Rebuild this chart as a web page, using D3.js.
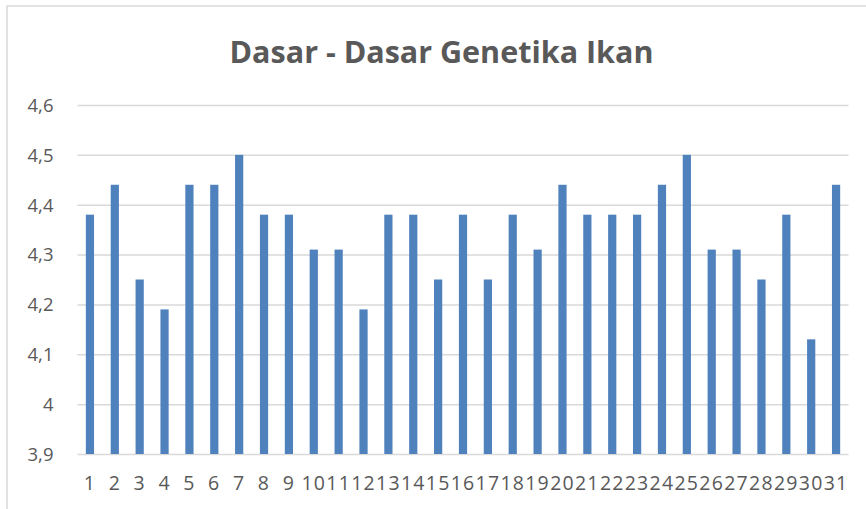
<!DOCTYPE html>
<meta charset="utf-8">
<style>
body { margin: 0; background: #fff; }
svg { font-family: "Open Sans", sans-serif; }
.title { font-weight: bold; font-size: 30.5px; fill: #595959; }
.axis text { font-family: "Open Sans", sans-serif; font-size: 18.5px; fill: #595959; }
.x-axis text { font-size: 19.5px; letter-spacing: 1.2px; }
.grid line { stroke: #d9d9d9; stroke-width: 1.5; }
.axis path.domain { display: none; }
.bar { fill: #4f81bd; }
</style>
<div id="chart"></div>
<script src="https://d3js.org/d3.v7.min.js"></script>
<script>
// data
var days = d3.range(1, 32).map(String);
var scores = [4.38, 4.44, 4.25, 4.19, 4.44, 4.44, 4.5, 4.38, 4.38, 4.31,
              4.31, 4.19, 4.38, 4.38, 4.25, 4.38, 4.25, 4.38, 4.31, 4.44,
              4.38, 4.38, 4.38, 4.44, 4.5, 4.31, 4.31, 4.25, 4.38, 4.13, 4.44];
var yTicks = [3.9, 4.0, 4.1, 4.2, 4.3, 4.4, 4.5, 4.6];
var chartTitle = "Dasar - Dasar Genetika Ikan";

var W = 866, H = 509;
var plotL = 77.5, plotR = 848.5, plotT = 105, plotB = 454;

var svg = d3.select("#chart").append("svg")
    .attr("width", W)
    .attr("height", H);

// chart border (cropped on right/bottom in original)
svg.append("rect")
    .attr("x", 7).attr("y", 6)
    .attr("width", W).attr("height", H)
    .attr("fill", "none")
    .attr("stroke", "#d9d9d9")
    .attr("stroke-width", 1.5);

svg.append("text")
    .attr("class", "title")
    .attr("x", 441.5)
    .attr("y", 63)
    .attr("text-anchor", "middle")
    .text(chartTitle);

var x = d3.scaleBand()
    .domain(days)
    .range([plotL, plotR])
    .paddingInner(0.67)
    .paddingOuter(0.335);

var y = d3.scaleLinear()
    .domain([3.9, 4.6])
    .range([plotB, plotT]);

var fmt = function(d) { return String(+d.toFixed(1)).replace(".", ","); };

var yAxis = svg.append("g")
    .attr("class", "axis grid")
    .attr("transform", "translate(" + plotL + ",0)")
    .call(d3.axisLeft(y).tickValues(yTicks).tickFormat(fmt)
        .tickSize(-(plotR - plotL)).tickPadding(24));
yAxis.selectAll("text").attr("dy", "0.34em");

svg.selectAll(".bar")
    .data(scores)
  .enter().append("rect")
    .attr("class", "bar")
    .attr("x", function(d, i) { return x(days[i]); })
    .attr("width", x.bandwidth())
    .attr("y", function(d) { return y(d); })
    .attr("height", function(d) { return y(3.9) - y(d); });

var xAxis = svg.append("g")
    .attr("class", "axis x-axis")
    .attr("transform", "translate(0," + plotB + ")")
    .call(d3.axisBottom(x).tickSize(0).tickPadding(22));
xAxis.selectAll("text").attr("dy", "0.71em");
</script>
